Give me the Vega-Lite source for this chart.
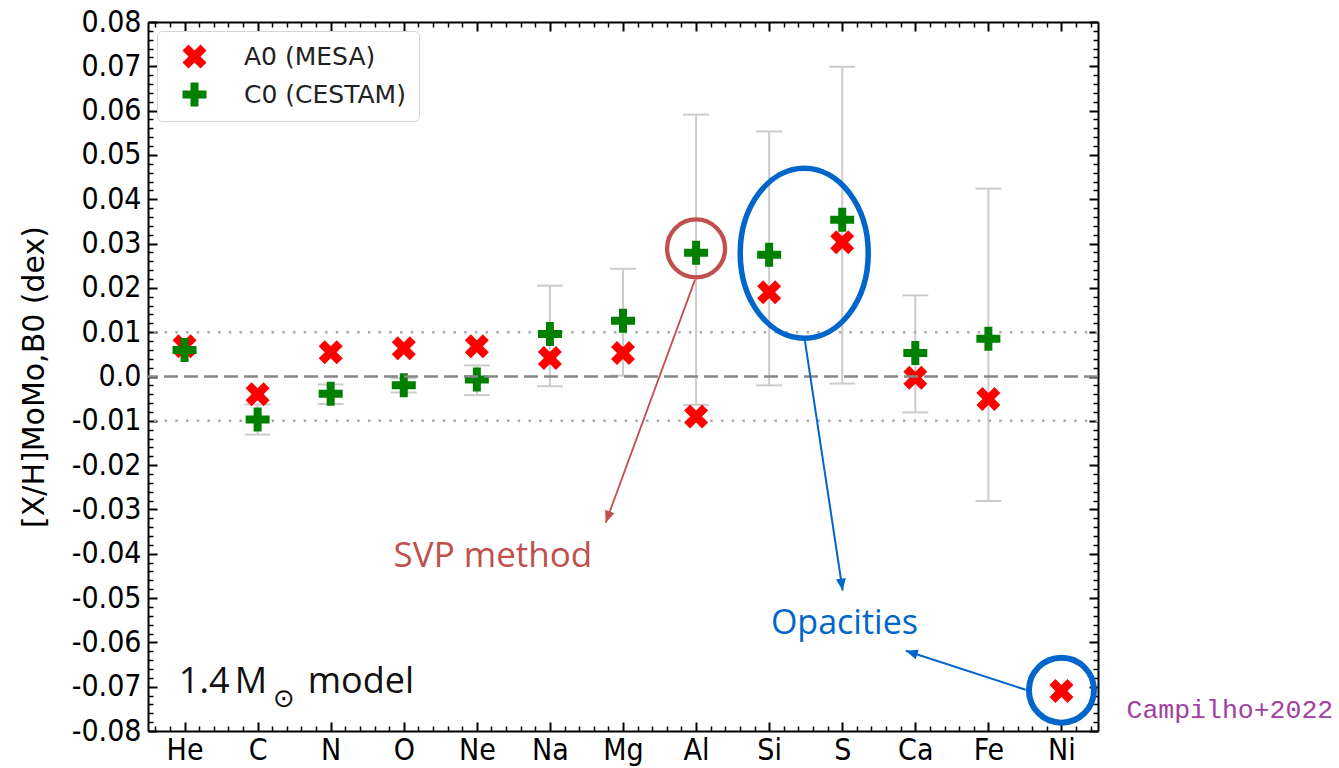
{
  "$schema": "https://vega.github.io/schema/vega-lite/v6.json",
  "width": 950,
  "height": 709,
  "padding": {"left": 19, "top": 7, "right": 4, "bottom": 2},
  "background": "white",
  "config": {"view": {"stroke": null}, "axis": {"grid": false}},
  "datasets": {
    "abund": [
      {"el": "He", "i": 0, "model": "A0 (MESA)", "val": 0.0068},
      {"el": "C", "i": 1, "model": "A0 (MESA)", "val": -0.0040},
      {"el": "N", "i": 2, "model": "A0 (MESA)", "val": 0.0055},
      {"el": "O", "i": 3, "model": "A0 (MESA)", "val": 0.0064},
      {"el": "Ne", "i": 4, "model": "A0 (MESA)", "val": 0.0068},
      {"el": "Na", "i": 5, "model": "A0 (MESA)", "val": 0.0042},
      {"el": "Mg", "i": 6, "model": "A0 (MESA)", "val": 0.0053},
      {"el": "Al", "i": 7, "model": "A0 (MESA)", "val": -0.0090},
      {"el": "Si", "i": 8, "model": "A0 (MESA)", "val": 0.0190},
      {"el": "S", "i": 9, "model": "A0 (MESA)", "val": 0.0303},
      {"el": "Ca", "i": 10, "model": "A0 (MESA)", "val": -0.0003},
      {"el": "Fe", "i": 11, "model": "A0 (MESA)", "val": -0.0051},
      {"el": "Ni", "i": 12, "model": "A0 (MESA)", "val": -0.0710},
      {"el": "He", "i": 0, "model": "C0 (CESTAM)", "val": 0.0060},
      {"el": "C", "i": 1, "model": "C0 (CESTAM)", "val": -0.0097},
      {"el": "N", "i": 2, "model": "C0 (CESTAM)", "val": -0.0039},
      {"el": "O", "i": 3, "model": "C0 (CESTAM)", "val": -0.0020},
      {"el": "Ne", "i": 4, "model": "C0 (CESTAM)", "val": -0.0007},
      {"el": "Na", "i": 5, "model": "C0 (CESTAM)", "val": 0.0096},
      {"el": "Mg", "i": 6, "model": "C0 (CESTAM)", "val": 0.0126},
      {"el": "Al", "i": 7, "model": "C0 (CESTAM)", "val": 0.0279},
      {"el": "Si", "i": 8, "model": "C0 (CESTAM)", "val": 0.0275},
      {"el": "S", "i": 9, "model": "C0 (CESTAM)", "val": 0.0354},
      {"el": "Ca", "i": 10, "model": "C0 (CESTAM)", "val": 0.0053},
      {"el": "Fe", "i": 11, "model": "C0 (CESTAM)", "val": 0.0085}
    ],
    "err": [
      {"el": "C", "i": 1, "lo": -0.0131, "hi": -0.0063},
      {"el": "N", "i": 2, "lo": -0.0062, "hi": -0.0018},
      {"el": "O", "i": 3, "lo": -0.0036, "hi": -0.0004},
      {"el": "Ne", "i": 4, "lo": -0.0042, "hi": 0.0025},
      {"el": "Na", "i": 5, "lo": -0.0022, "hi": 0.0205},
      {"el": "Mg", "i": 6, "lo": 0.0002, "hi": 0.0243},
      {"el": "Al", "i": 7, "lo": -0.0064, "hi": 0.0591},
      {"el": "Si", "i": 8, "lo": -0.0020, "hi": 0.0553},
      {"el": "S", "i": 9, "lo": -0.0016, "hi": 0.0699},
      {"el": "Ca", "i": 10, "lo": -0.0081, "hi": 0.0183},
      {"el": "Fe", "i": 11, "lo": -0.0281, "hi": 0.0424}
    ]
  },
  "layer": [
    {
      "data": {"name": "err"},
      "mark": {"type": "rule", "color": "#cccccc", "strokeWidth": 2},
      "encoding": {
        "x": {"field": "i", "type": "quantitative", "scale": {"domain": [-0.5, 12.5], "nice": false, "zero": false}, "axis": null},
        "y": {"field": "lo", "type": "quantitative", "scale": {"domain": [-0.08, 0.08], "nice": false, "zero": false}, "axis": null},
        "y2": {"field": "hi"}
      }
    },
    {
      "data": {"name": "err"},
      "mark": {"type": "tick", "orient": "horizontal", "color": "#cccccc", "size": 26, "thickness": 2, "opacity": 1},
      "encoding": {
        "x": {"field": "i", "type": "quantitative", "scale": {"domain": [-0.5, 12.5], "nice": false, "zero": false}, "axis": null},
        "y": {"field": "lo", "type": "quantitative", "scale": {"domain": [-0.08, 0.08], "nice": false, "zero": false}, "axis": null}
      }
    },
    {
      "data": {"name": "err"},
      "mark": {"type": "tick", "orient": "horizontal", "color": "#cccccc", "size": 26, "thickness": 2, "opacity": 1},
      "encoding": {
        "x": {"field": "i", "type": "quantitative", "scale": {"domain": [-0.5, 12.5], "nice": false, "zero": false}, "axis": null},
        "y": {"field": "hi", "type": "quantitative", "scale": {"domain": [-0.08, 0.08], "nice": false, "zero": false}, "axis": null}
      }
    },
    {
      "data": {"values": [{"v": 0.01}, {"v": -0.01}]},
      "mark": {"type": "rule", "color": "#aaaaaa", "strokeWidth": 2.5, "strokeDash": [2.5, 8.2]},
      "encoding": {
        "y": {"field": "v", "type": "quantitative", "scale": {"domain": [-0.08, 0.08], "nice": false, "zero": false}, "axis": null}
      }
    },
    {
      "data": {"name": "abund"},
      "mark": {"type": "point", "filled": true, "size": 576, "opacity": 1, "strokeWidth": 0},
      "encoding": {
        "x": {
          "field": "i", "type": "quantitative",
          "scale": {"domain": [-0.5, 12.5], "nice": false, "zero": false},
          "axis": {
            "orient": "bottom", "title": null, "tickCount": 65, "grid": false,
            "domainColor": "black", "domainWidth": 2,
            "tickColor": "black",
            "tickSize": {"condition": {"test": "abs(datum.value - round(datum.value)) < 1e-6", "value": -9}, "value": -5},
            "tickWidth": {"condition": {"test": "abs(datum.value - round(datum.value)) < 1e-6", "value": 2}, "value": 1.5},
            "labelExpr": "abs(datum.value - round(datum.value)) < 1e-6 ? ['He','C','N','O','Ne','Na','Mg','Al','Si','S','Ca','Fe','Ni'][round(datum.value)] : ''",
            "labelFont": "DejaVu Sans Condensed, DejaVu Sans", "labelFontSize": 30, "labelColor": "black",
            "labelPadding": 13, "labelOverlap": false, "labelFlush": false, "labelBound": false
          }
        },
        "y": {
          "field": "val", "type": "quantitative",
          "scale": {"domain": [-0.08, 0.08], "nice": false, "zero": false},
          "axis": {
            "orient": "left", "tickCount": 80, "grid": false,
            "title": "[X/H]MoMo,B0 (dex)",
            "titleFont": "DejaVu Sans", "titleFontSize": 30, "titleFontWeight": "normal", "titleColor": "black", "titlePadding": 22,
            "domainColor": "black", "domainWidth": 2,
            "tickColor": "black",
            "tickSize": {"condition": {"test": "abs(datum.value*100 - round(datum.value*100)) < 1e-6", "value": -9}, "value": -5},
            "tickWidth": {"condition": {"test": "abs(datum.value*100 - round(datum.value*100)) < 1e-6", "value": 2}, "value": 1.5},
            "labelExpr": "abs(datum.value*100 - round(datum.value*100)) < 1e-6 ? (abs(datum.value) < 1e-9 ? '0.0' : replace(format(datum.value, '.2f'), '\u2212', '-')) : ''",
            "labelFont": "DejaVu Sans Condensed, DejaVu Sans", "labelFontSize": 30, "labelColor": "black",
            "labelPadding": 16, "labelOverlap": false, "labelFlush": false, "labelBound": false
          }
        },
        "color": {
          "field": "model", "type": "nominal",
          "scale": {"domain": ["A0 (MESA)", "C0 (CESTAM)"], "range": ["#ff0000", "#008000"]},
          "legend": {
            "title": null, "orient": "none", "legendX": 9, "legendY": 9,
            "labelFont": "DejaVu Sans", "labelFontSize": 25, "labelColor": "#222222", "labelLimit": 400,
            "symbolSize": 576, "symbolStrokeWidth": 0, "labelOffset": 37, "symbolOffset": 12,
            "rowPadding": 12, "padding": 13,
            "fillColor": "#ffffff", "strokeColor": "#d6d6d6", "cornerRadius": 5
          }
        },
        "shape": {
          "field": "model", "type": "nominal",
          "scale": {
            "domain": ["A0 (MESA)", "C0 (CESTAM)"],
            "range": [
              "M 0.5,-1 L 1,-0.5 L 0.5,0 L 1,0.5 L 0.5,1 L 0,0.5 L -0.5,1 L -1,0.5 L -0.5,0 L -1,-0.5 L -0.5,-1 L 0,-0.5 Z",
              "M -0.333,-1 L 0.333,-1 L 0.333,-0.333 L 1,-0.333 L 1,0.333 L 0.333,0.333 L 0.333,1 L -0.333,1 L -0.333,0.333 L -1,0.333 L -1,-0.333 L -0.333,-0.333 Z"
            ]
          },
          "legend": {
            "title": null, "orient": "none", "legendX": 9, "legendY": 9,
            "labelFont": "DejaVu Sans", "labelFontSize": 25, "labelColor": "#222222", "labelLimit": 400,
            "symbolSize": 576, "symbolStrokeWidth": 0, "labelOffset": 37, "symbolOffset": 12,
            "rowPadding": 12, "padding": 13,
            "fillColor": "#ffffff", "strokeColor": "#d6d6d6", "cornerRadius": 5
          }
        }
      }
    },
    {
      "data": {"name": "abund"},
      "mark": {"type": "point", "opacity": 0},
      "encoding": {
        "x": {
          "field": "i", "type": "quantitative",
          "scale": {"domain": [-0.5, 12.5], "nice": false, "zero": false},
          "axis": {
            "orient": "top", "title": null, "labels": false, "tickCount": 65, "grid": false,
            "domainColor": "black", "domainWidth": 2, "tickColor": "black",
            "tickSize": {"condition": {"test": "abs(datum.value - round(datum.value)) < 1e-6", "value": -9}, "value": -5},
            "tickWidth": {"condition": {"test": "abs(datum.value - round(datum.value)) < 1e-6", "value": 2}, "value": 1.5}
          }
        },
        "y": {
          "field": "val", "type": "quantitative",
          "scale": {"domain": [-0.08, 0.08], "nice": false, "zero": false},
          "axis": {
            "orient": "right", "title": null, "labels": false, "tickCount": 80, "grid": false,
            "domainColor": "black", "domainWidth": 2, "tickColor": "black",
            "tickSize": {"condition": {"test": "abs(datum.value*100 - round(datum.value*100)) < 1e-6", "value": -9}, "value": -5},
            "tickWidth": {"condition": {"test": "abs(datum.value*100 - round(datum.value*100)) < 1e-6", "value": 2}, "value": 1.5}
          }
        }
      }
    },
    {
      "data": {"values": [{"v": 0}]},
      "mark": {"type": "rule", "color": "#888888", "strokeWidth": 2.5, "strokeDash": [14, 6]},
      "encoding": {
        "y": {"field": "v", "type": "quantitative", "scale": {"domain": [-0.08, 0.08], "nice": false, "zero": false}, "axis": null}
      }
    },
    {
      "data": {"values": [{"i": 7, "v": 0.0289}]},
      "mark": {"type": "point", "shape": "circle", "size": 3364, "filled": false, "stroke": "#c0504d", "strokeWidth": 4.3, "opacity": 1},
      "encoding": {
        "x": {"field": "i", "type": "quantitative", "scale": {"domain": [-0.5, 12.5], "nice": false, "zero": false}, "axis": null},
        "y": {"field": "v", "type": "quantitative", "scale": {"domain": [-0.08, 0.08], "nice": false, "zero": false}, "axis": null}
      }
    },
    {
      "data": {"values": [{"x1": 6.985, "y1": 0.0218, "x2": 5.763, "y2": -0.0330}]},
      "mark": {"type": "rule", "color": "#c0504d", "strokeWidth": 1.8},
      "encoding": {
        "x": {"field": "x1", "type": "quantitative", "scale": {"domain": [-0.5, 12.5], "nice": false, "zero": false}, "axis": null},
        "y": {"field": "y1", "type": "quantitative", "scale": {"domain": [-0.08, 0.08], "nice": false, "zero": false}, "axis": null},
        "x2": {"field": "x2"},
        "y2": {"field": "y2"}
      }
    },
    {
      "data": {"values": [{"x": 5.763, "y": -0.0330}]},
      "mark": {"type": "point", "shape": "M 0,0 L 0.5,1.2 L -0.5,1.2 Z", "size": 400, "filled": true, "color": "#c0504d", "opacity": 1, "angle": 200.2},
      "encoding": {
        "x": {"field": "x", "type": "quantitative", "scale": {"domain": [-0.5, 12.5], "nice": false, "zero": false}, "axis": null},
        "y": {"field": "y", "type": "quantitative", "scale": {"domain": [-0.08, 0.08], "nice": false, "zero": false}, "axis": null}
      }
    },
    {
      "data": {"values": [{"x": 4.22, "y": -0.0404, "t": "SVP method"}]},
      "mark": {"type": "text", "font": "Open Sans", "fontSize": 35, "color": "#c0504d", "align": "center", "baseline": "middle"},
      "encoding": {
        "x": {"field": "x", "type": "quantitative", "scale": {"domain": [-0.5, 12.5], "nice": false, "zero": false}, "axis": null},
        "y": {"field": "y", "type": "quantitative", "scale": {"domain": [-0.08, 0.08], "nice": false, "zero": false}, "axis": null},
        "text": {"field": "t"}
      }
    },
    {
      "data": {"values": [{"i": 8.48, "v": 0.0278}]},
      "mark": {"type": "point", "shape": "M -0.753,0 A 0.753,1 0 1,1 0.753,0 A 0.753,1 0 1,1 -0.753,0 Z", "size": 28900, "filled": false, "stroke": "#0066cc", "strokeWidth": 5.5, "opacity": 1},
      "encoding": {
        "x": {"field": "i", "type": "quantitative", "scale": {"domain": [-0.5, 12.5], "nice": false, "zero": false}, "axis": null},
        "y": {"field": "v", "type": "quantitative", "scale": {"domain": [-0.08, 0.08], "nice": false, "zero": false}, "axis": null}
      }
    },
    {
      "data": {"values": [{"x1": 8.49, "y1": 0.0080, "x2": 9.006, "y2": -0.0483}]},
      "mark": {"type": "rule", "color": "#0066cc", "strokeWidth": 2},
      "encoding": {
        "x": {"field": "x1", "type": "quantitative", "scale": {"domain": [-0.5, 12.5], "nice": false, "zero": false}, "axis": null},
        "y": {"field": "y1", "type": "quantitative", "scale": {"domain": [-0.08, 0.08], "nice": false, "zero": false}, "axis": null},
        "x2": {"field": "x2"},
        "y2": {"field": "y2"}
      }
    },
    {
      "data": {"values": [{"x": 9.006, "y": -0.0483}]},
      "mark": {"type": "point", "shape": "M 0,0 L 0.5,1.2 L -0.5,1.2 Z", "size": 400, "filled": true, "color": "#0066cc", "opacity": 1, "angle": 171.5},
      "encoding": {
        "x": {"field": "x", "type": "quantitative", "scale": {"domain": [-0.5, 12.5], "nice": false, "zero": false}, "axis": null},
        "y": {"field": "y", "type": "quantitative", "scale": {"domain": [-0.08, 0.08], "nice": false, "zero": false}, "axis": null}
      }
    },
    {
      "data": {"values": [{"x": 9.03, "y": -0.0558, "t": "Opacities"}]},
      "mark": {"type": "text", "font": "Open Sans", "fontSize": 34, "color": "#0066cc", "align": "center", "baseline": "middle"},
      "encoding": {
        "x": {"field": "x", "type": "quantitative", "scale": {"domain": [-0.5, 12.5], "nice": false, "zero": false}, "axis": null},
        "y": {"field": "y", "type": "quantitative", "scale": {"domain": [-0.08, 0.08], "nice": false, "zero": false}, "axis": null},
        "text": {"field": "t"}
      }
    },
    {
      "data": {"values": [{"i": 12, "v": -0.0708}]},
      "mark": {"type": "point", "shape": "circle", "size": 4225, "filled": false, "stroke": "#0066cc", "strokeWidth": 6, "opacity": 1},
      "encoding": {
        "x": {"field": "i", "type": "quantitative", "scale": {"domain": [-0.5, 12.5], "nice": false, "zero": false}, "axis": null},
        "y": {"field": "v", "type": "quantitative", "scale": {"domain": [-0.08, 0.08], "nice": false, "zero": false}, "axis": null}
      }
    },
    {
      "data": {"values": [{"x1": 11.51, "y1": -0.0707, "x2": 9.87, "y2": -0.0619}]},
      "mark": {"type": "rule", "color": "#0066cc", "strokeWidth": 2},
      "encoding": {
        "x": {"field": "x1", "type": "quantitative", "scale": {"domain": [-0.5, 12.5], "nice": false, "zero": false}, "axis": null},
        "y": {"field": "y1", "type": "quantitative", "scale": {"domain": [-0.08, 0.08], "nice": false, "zero": false}, "axis": null},
        "x2": {"field": "x2"},
        "y2": {"field": "y2"}
      }
    },
    {
      "data": {"values": [{"x": 9.87, "y": -0.0619}]},
      "mark": {"type": "point", "shape": "M 0,0 L 0.5,1.2 L -0.5,1.2 Z", "size": 400, "filled": true, "color": "#0066cc", "opacity": 1, "angle": 288},
      "encoding": {
        "x": {"field": "x", "type": "quantitative", "scale": {"domain": [-0.5, 12.5], "nice": false, "zero": false}, "axis": null},
        "y": {"field": "y", "type": "quantitative", "scale": {"domain": [-0.08, 0.08], "nice": false, "zero": false}, "axis": null}
      }
    },
    {
      "data": {"values": [{"x": -0.078, "y": -0.0714, "t": "1.4"}, {"x": 0.688, "y": -0.0714, "t": "M"}, {"x": 1.686, "y": -0.0714, "t": "model"}]},
      "mark": {"type": "text", "font": "Open Sans", "fontSize": 36, "color": "#111111", "align": "left", "baseline": "alphabetic"},
      "encoding": {
        "x": {"field": "x", "type": "quantitative", "scale": {"domain": [-0.5, 12.5], "nice": false, "zero": false}, "axis": null},
        "y": {"field": "y", "type": "quantitative", "scale": {"domain": [-0.08, 0.08], "nice": false, "zero": false}, "axis": null},
        "text": {"field": "t"}
      }
    },
    {
      "data": {"values": [{"x": 1.36, "y": -0.0727, "t": "⊙"}]},
      "mark": {"type": "text", "font": "DejaVu Sans", "fontSize": 26, "color": "#111111", "align": "center", "baseline": "middle"},
      "encoding": {
        "x": {"field": "x", "type": "quantitative", "scale": {"domain": [-0.5, 12.5], "nice": false, "zero": false}, "axis": null},
        "y": {"field": "y", "type": "quantitative", "scale": {"domain": [-0.08, 0.08], "nice": false, "zero": false}, "axis": null},
        "text": {"field": "t"}
      }
    },
    {
      "data": {"values": [{"x": 12.89, "y": -0.0752, "t": "Campilho+2022"}]},
      "mark": {"type": "text", "font": "Liberation Mono", "fontSize": 26.5, "color": "#a040a0", "align": "left", "baseline": "middle"},
      "encoding": {
        "x": {"field": "x", "type": "quantitative", "scale": {"domain": [-0.5, 12.5], "nice": false, "zero": false}, "axis": null},
        "y": {"field": "y", "type": "quantitative", "scale": {"domain": [-0.08, 0.08], "nice": false, "zero": false}, "axis": null},
        "text": {"field": "t"}
      }
    }
  ],
  "resolve": {"axis": {"x": "independent", "y": "independent"}}
}
